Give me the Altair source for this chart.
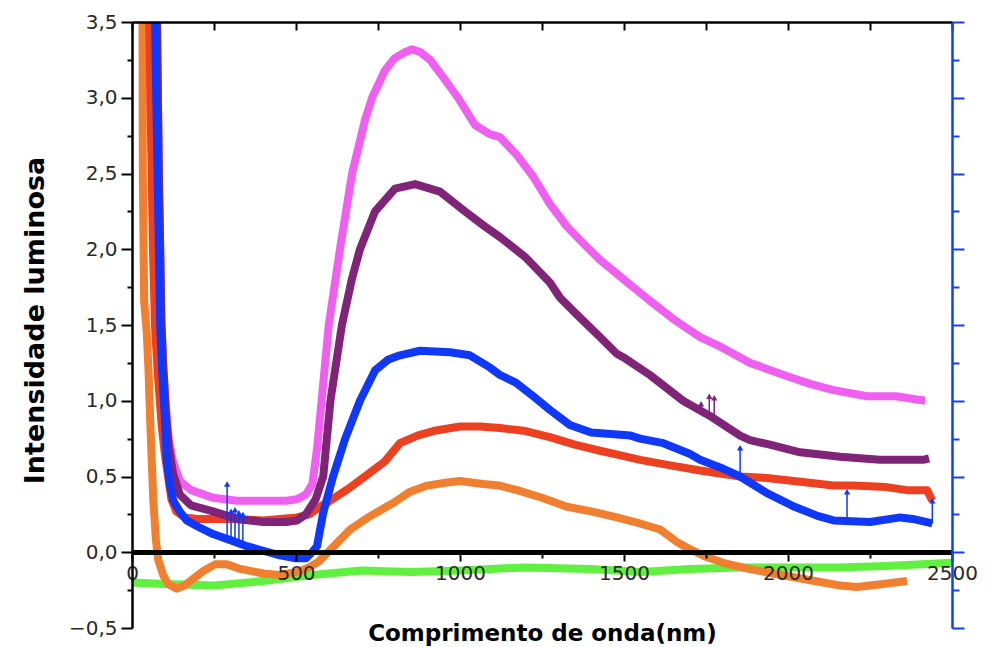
import altair as alt
import pandas as pd

# ---- data (wavelength nm, intensity) ----
orange_x = [32, 33, 37, 45, 50, 57, 65, 73, 80, 95, 110, 136, 160, 190, 220, 253, 290, 330, 400, 450, 503,
            540, 570, 620, 665, 720, 760, 800, 848, 900, 960, 1000, 1070, 1120, 1174, 1250, 1326, 1400,
            1478, 1549, 1610, 1660, 1701, 1750, 1802, 1880, 1955, 2030, 2107, 2160, 2210, 2290, 2363]
orange_y = [3.6, 2.5, 1.66, 1.45, 1.22, 0.78, 0.34, 0.08, -0.05, -0.15, -0.21, -0.24, -0.22, -0.17, -0.12,
            -0.08, -0.08, -0.11, -0.14, -0.15, -0.13, -0.1, -0.06, 0.05, 0.15, 0.23, 0.28, 0.33, 0.4, 0.44,
            0.46, 0.47, 0.45, 0.44, 0.41, 0.36, 0.3, 0.27, 0.23, 0.19, 0.15, 0.07, 0.02, -0.03, -0.07, -0.11,
            -0.14, -0.17, -0.2, -0.22, -0.23, -0.21, -0.19]

red_x = [52, 56, 60, 64, 70, 78, 90, 100, 110, 120, 135, 160, 200, 300, 400, 503, 540, 573, 604, 660, 710,
         771, 817, 870, 918, 1000, 1060, 1122, 1200, 1274, 1350, 1427, 1490, 1549, 1650, 1732, 1854, 1936,
         2058, 2139, 2200, 2300, 2363, 2424, 2440]
red_y = [3.6, 3.0, 2.5, 2.0, 1.5, 1.2, 0.85, 0.65, 0.5, 0.35, 0.27, 0.23, 0.22, 0.22, 0.21, 0.23, 0.25,
         0.3, 0.34, 0.42, 0.5, 0.6, 0.72, 0.77, 0.8, 0.83, 0.83, 0.82, 0.8, 0.76, 0.71, 0.67, 0.64, 0.61,
         0.57, 0.54, 0.5, 0.49, 0.46, 0.44, 0.44, 0.43, 0.41, 0.41, 0.34]

magenta_x = [76, 79, 82, 86, 90, 96, 104, 112, 125, 146, 180, 247, 320, 400, 470, 503, 530, 550, 565, 578,
             600, 634, 671, 710, 732, 771, 800, 832, 854, 880, 909, 954, 994, 1046, 1091, 1122, 1174, 1223,
             1274, 1326, 1380, 1427, 1500, 1579, 1650, 1732, 1800, 1884, 1936, 2000, 2070, 2139, 2241, 2330,
             2418]
magenta_y = [3.6, 3.0, 2.5, 2.0, 1.5, 1.2, 0.95, 0.75, 0.6, 0.47, 0.41, 0.36, 0.34, 0.34, 0.34, 0.35, 0.38,
             0.45, 0.7, 1.0, 1.5, 2.0, 2.5, 2.85, 3.0, 3.18, 3.26, 3.3, 3.32, 3.3, 3.25, 3.12, 3.0, 2.82, 2.76,
             2.74, 2.62, 2.48, 2.3, 2.15, 2.03, 1.93, 1.8, 1.66, 1.54, 1.42, 1.35, 1.25, 1.21, 1.16, 1.11,
             1.07, 1.03, 1.03, 1.0]

purple_x = [76, 79, 82, 86, 90, 96, 104, 112, 125, 146, 180, 247, 320, 400, 470, 503, 530, 560, 583, 605,
            640, 670, 695, 741, 802, 863, 939, 1015, 1076, 1122, 1198, 1274, 1305, 1351, 1427, 1478, 1503,
            1579, 1680, 1762, 1854, 1884, 1945, 2037, 2159, 2280, 2412, 2430]
purple_y = [3.6, 3.0, 2.5, 2.0, 1.5, 1.2, 0.9, 0.7, 0.52, 0.38, 0.31, 0.27, 0.22, 0.2, 0.2, 0.21, 0.25, 0.35,
            0.5, 1.0, 1.5, 1.8, 2.0, 2.25, 2.4, 2.43, 2.38, 2.25, 2.15, 2.08, 1.95, 1.78, 1.68, 1.58, 1.42,
            1.31, 1.28, 1.17, 1.0, 0.9, 0.77, 0.74, 0.71, 0.66, 0.63, 0.61, 0.61, 0.62]

blue_x = [70, 74, 78, 82, 86, 92, 100, 106, 115, 126, 145, 167, 200, 247, 300, 350, 400, 451, 500, 530, 549,
          564, 583, 613, 650, 695, 741, 780, 817, 878, 970, 1030, 1091, 1122, 1170, 1223, 1274, 1335, 1400,
          1460, 1520, 1549, 1620, 1700, 1732, 1793, 1854, 1936, 2020, 2090, 2139, 2250, 2342, 2380, 2440]
blue_y = [3.6, 3.0, 2.5, 2.0, 1.5, 1.2, 0.9, 0.6, 0.45, 0.34, 0.27, 0.21, 0.17, 0.12, 0.08, 0.04, 0.01, -0.02,
          -0.04, -0.04, 0.0, 0.04, 0.26, 0.5, 0.75, 1.0, 1.2, 1.27, 1.3, 1.33, 1.32, 1.3, 1.22, 1.17, 1.12,
          1.03, 0.94, 0.84, 0.79, 0.78, 0.77, 0.75, 0.72, 0.65, 0.61, 0.56, 0.5, 0.39, 0.3, 0.24, 0.21, 0.2,
          0.23, 0.22, 0.19]

green_x = [0, 100, 250, 400, 550, 700, 850, 1000, 1200, 1400, 1550, 1700, 1850, 2000, 2150, 2300, 2500]
green_y = [-0.2, -0.21, -0.22, -0.19, -0.15, -0.12, -0.13, -0.12, -0.1, -0.11, -0.13, -0.11, -0.1, -0.1,
           -0.1, -0.09, -0.07]

# narrow spikes (x, base, top)
blue_spike_x = [290, 302, 314, 326, 338, 1854, 2180, 2440]
blue_spike_base = [0.08, 0.07, 0.07, 0.06, 0.05, 0.5, 0.2, 0.19]
blue_spike_top = [0.45, 0.27, 0.28, 0.26, 0.25, 0.69, 0.4, 0.34]
purple_spike_x = [1735, 1760, 1775]
purple_spike_base = [0.93, 0.91, 0.9]
purple_spike_top = [0.98, 1.03, 1.02]

x_ticks = list(range(0, 2501, 250))
y_ticks = [i * 0.25 - 0.5 for i in range(17)]

ORANGE, RED, BLUE = "#F08030", "#EC4020", "#1038F8"
PURPLE, MAGENTA, GREEN = "#802478", "#F060F0", "#60F040"
AXIS_BLUE = "#1040F0"
FONT = "DejaVu Sans"

XS = alt.Scale(domain=[0, 2500], nice=False, zero=False)
YS = alt.Scale(domain=[-0.5, 3.5], nice=False, zero=False)

major_y = "abs(datum.value*2 - round(datum.value*2)) < 0.001"
major_x = "datum.value % 500 === 0"

left_axis = alt.Axis(
    orient="left", values=y_ticks, grid=False, zindex=1,
    labelExpr=f"{major_y} ? replace(format(datum.value, '.1f'), '.', ',') : ''",
    tickSize={"condition": {"test": major_y, "value": 11}, "value": 5},
    tickColor="black", tickWidth=2, domainColor="black", domainWidth=2.5,
    labelFont=FONT, labelFontSize=20, labelColor="#2a2a2a", labelPadding=4, labelOverlap=False,
    title="Intensidade luminosa", titleFont=FONT, titleFontSize=27, titleFontWeight="bold",
    titleColor="black", titleX=-97, titleY=298, titleAngle=-90, titleAlign="center",
    titleBaseline="middle",
)
bottom_axis = alt.Axis(
    orient="bottom", offset=-76, values=x_ticks, format="d", grid=False, zindex=1,
    labelExpr=f"{major_x} ? datum.label : ''",
    tickSize={"condition": {"test": major_x, "value": 9}, "value": 6},
    tickColor="black", tickWidth=2, domainColor="black", domainWidth=5,
    labelFont=FONT, labelFontSize=20, labelColor="#2a2a2a", labelPadding=2,
    labelOverlap=False, labelFlush=False,
    title="Comprimento de onda(nm)", titleFont=FONT, titleFontSize=23, titleFontWeight="bold",
    titleColor="black", titleY=88, titleBaseline="alphabetic",
)
top_axis = alt.Axis(
    orient="top", values=x_ticks, labels=False, grid=False, title=None, zindex=1,
    tickSize={"expr": "-8"}, tickColor="black", tickWidth=2,
    domainColor="black", domainWidth=2.5,
)
right_axis = alt.Axis(
    orient="right", values=y_ticks, labels=False, grid=False, title=None, zindex=1,
    tickSize={"condition": {"test": major_y, "value": 12}, "value": 7},
    tickColor=AXIS_BLUE, tickWidth=2, domainColor=AXIS_BLUE, domainWidth=2.5,
)


def frame(xs, ys):
    return pd.DataFrame({"x": xs, "y": ys})


def line(xs, ys, color, xaxis=None, yaxis=None):
    return alt.Chart(frame(xs, ys)).mark_line(
        color=color, strokeWidth=8, clip=True, strokeJoin="round", strokeCap="butt"
    ).encode(
        x=alt.X("x:Q", scale=XS, axis=xaxis),
        y=alt.Y("y:Q", scale=YS, axis=yaxis),
    )


def markers(xs, ys, color, shape):
    pts = [(a, b) for a, b in zip(xs, ys) if b > 0.6 and a < 150]
    return alt.Chart(frame([p[0] for p in pts], [p[1] for p in pts])).mark_point(
        color=color, filled=True, shape=shape, size=45, opacity=1, clip=True
    ).encode(
        x=alt.X("x:Q", scale=XS, axis=None),
        y=alt.Y("y:Q", scale=YS, axis=None),
    )


def spikes(xs, base, top, color):
    df = pd.DataFrame({"x": xs, "b": base, "t": top})
    r = alt.Chart(df).mark_rule(color=color, strokeWidth=1.5, clip=True).encode(
        x=alt.X("x:Q", scale=XS, axis=None),
        y=alt.Y("b:Q", scale=YS, axis=None),
        y2="t:Q",
    )
    p = alt.Chart(df).mark_point(color=color, filled=True, shape="triangle-up", size=40, opacity=1).encode(
        x=alt.X("x:Q", scale=XS, axis=None),
        y=alt.Y("t:Q", scale=YS, axis=None),
    )
    return r + p


layers = [
    line(green_x, green_y, GREEN, xaxis=bottom_axis, yaxis=left_axis),
    line(orange_x, orange_y, ORANGE, xaxis=top_axis, yaxis=right_axis),
    markers(orange_x, orange_y, ORANGE, "square"),
    line(red_x, red_y, RED),
    markers(red_x, red_y, RED, "diamond"),
    line(magenta_x, magenta_y, MAGENTA),
    markers(magenta_x, magenta_y, MAGENTA, "square"),
    line(purple_x, purple_y, PURPLE),
    markers(purple_x, purple_y, PURPLE, "triangle-down"),
    spikes(purple_spike_x, purple_spike_base, purple_spike_top, PURPLE),
    line(blue_x, blue_y, BLUE),
    markers(blue_x, blue_y, BLUE, "triangle-up"),
    spikes(blue_spike_x, blue_spike_base, blue_spike_top, BLUE),
]

chart = alt.layer(*layers).resolve_axis(x="independent", y="independent").properties(
    width=820, height=606,
    autosize=alt.AutoSizeParams(type="none"),
    padding={"left": 132, "top": 22, "right": 48, "bottom": 19},
    background="white",
).configure_view(stroke=None)

chart.save("out.html", embed_options={"renderer": "svg", "actions": False})
